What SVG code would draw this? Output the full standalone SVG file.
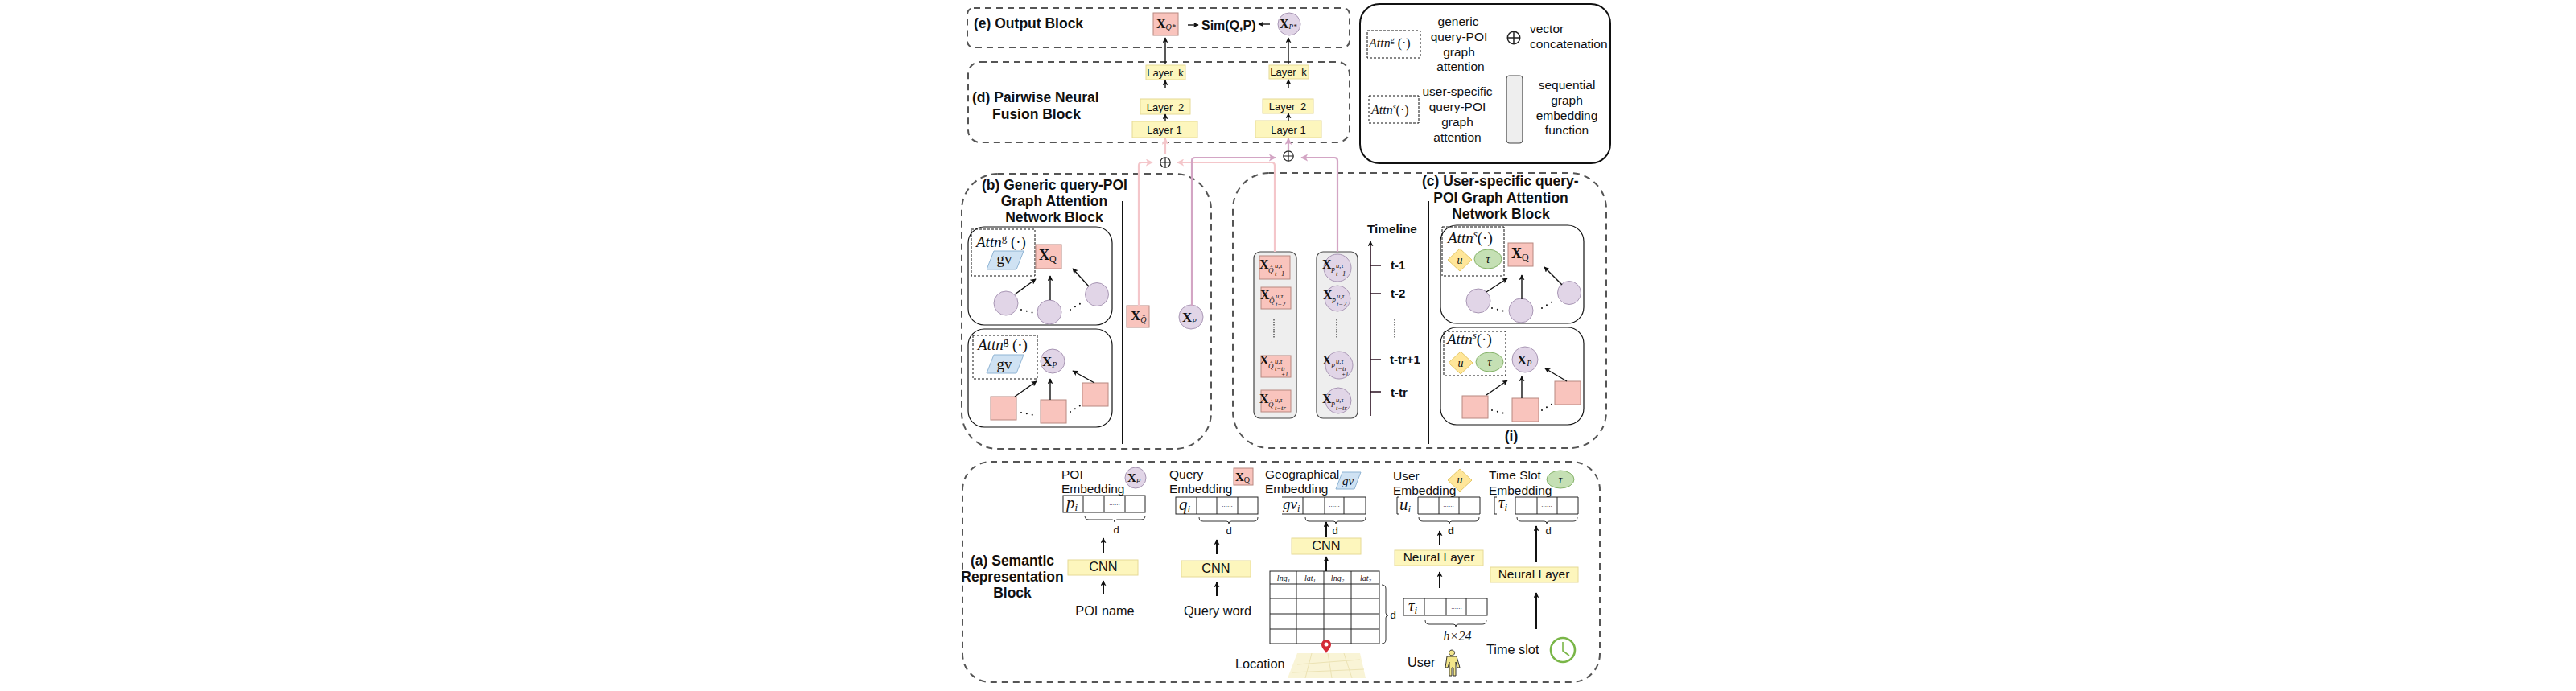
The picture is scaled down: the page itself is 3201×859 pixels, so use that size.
<svg xmlns="http://www.w3.org/2000/svg" width="3201" height="859" viewBox="0 0 3201 859">
<style>
svg{font-family:"Liberation Sans",Arial,sans-serif;font-size:15.5px}
text{fill:#111}
.h{font-weight:bold;font-size:17.5px}
.c{text-anchor:middle}
.lay{font-size:13px;text-anchor:middle}
.tl{font-weight:bold;font-size:15px}
.d{font-size:13px;text-anchor:middle}
.big{font-size:16.3px}
.x{font-family:"Liberation Serif","Times New Roman",serif;font-weight:bold}
.i{font-family:"Liberation Serif","Times New Roman",serif;font-style:italic}
.m{font-family:"Liberation Serif","Times New Roman",serif}
.block{fill:none;stroke:#555;stroke-width:2;stroke-dasharray:8 6}
.inner{fill:none;stroke:#111;stroke-width:1.2}
.attn{fill:none;stroke:#111;stroke-width:1;stroke-dasharray:3 2}
.y{fill:#fdf6bd;stroke:#e6da96;stroke-width:1}
.q{fill:#f9c4bd;stroke:#b88880;stroke-width:1}
.p{fill:#e1d5e7;stroke:#a896b4;stroke-width:1}
.gv{fill:#cfe2f3;stroke:#8fb4d4;stroke-width:1}
.u{fill:#ffe699;stroke:#e3c767;stroke-width:1}
.tau{fill:#c5e0b4;stroke:#86b36a;stroke-width:1}
.seq{fill:#eeeeee;stroke:#444;stroke-width:1.2}
.cell{fill:#fff;stroke:#222;stroke-width:1}
.ln{fill:none;stroke:#222;stroke-width:1}
.brace{fill:none;stroke:#333;stroke-width:1}
.a{fill:none;stroke:#111;stroke-width:1.4;marker-end:url(#ah)}
.a2{fill:none;stroke:#111;stroke-width:2;marker-end:url(#ah)}
.pk{fill:none;stroke:#f4c6ca;stroke-width:2.2;marker-end:url(#pk)}
.pp{fill:none;stroke:#d3a5c4;stroke-width:2.2;marker-end:url(#pp)}
.dots{fill:none;stroke:#111;stroke-width:2;stroke-linecap:round;stroke-dasharray:0 7}
.vd{fill:none;stroke:#555;stroke-width:1.5;stroke-dasharray:1.5 1.5}
.sep{fill:none;stroke:#111;stroke-width:2}
.oplus{fill:none;stroke:#222;stroke-width:1.2}
</style>
<defs>
<marker id="ah" viewBox="0 0 10 10" refX="9" refY="5" markerWidth="7" markerHeight="7" markerUnits="userSpaceOnUse" orient="auto"><path d="M0,0L10,5L0,10L2.5,5Z" fill="#111"/></marker>
<marker id="pk" viewBox="0 0 10 10" refX="9" refY="5" markerWidth="9" markerHeight="9" markerUnits="userSpaceOnUse" orient="auto"><path d="M0,0L10,5L0,10L2.5,5Z" fill="#f4c6ca"/></marker>
<marker id="pp" viewBox="0 0 10 10" refX="9" refY="5" markerWidth="9" markerHeight="9" markerUnits="userSpaceOnUse" orient="auto"><path d="M0,0L10,5L0,10L2.5,5Z" fill="#d3a5c4"/></marker>
<g id="op"><circle r="6.2" class="oplus"/><path d="M-6.2,0H6.2M0,-6.2V6.2" class="oplus"/></g>
</defs>
<rect width="3201" height="859" fill="#fff"/>

<g id="block-e"><rect class="block" x="1202" y="10" width="475" height="49" rx="8"/>
<text class="h" x="1210" y="35">(e) Output Block</text></g>
<g id="block-d"><rect class="block" x="1203" y="77" width="474" height="100" rx="15"/>
<text class="h" x="1208" y="127">(d) Pairwise Neural</text><text class="h" x="1233" y="148">Fusion Block</text></g>
<g id="block-b"><rect class="block" x="1195" y="216" width="310" height="342" rx="45"/>
<text class="h" x="1220" y="236">(b) Generic query-POI</text><text class="h c" x="1310" y="256">Graph Attention</text><text class="h c" x="1310" y="276">Network Block</text>
<path class="sep" d="M1395,250V552"/></g>
<g id="block-c"><rect class="block" x="1532" y="215" width="464" height="342" rx="45"/>
<text class="h" x="1767" y="231">(c) User-specific query-</text><text class="h c" x="1865" y="252">POI Graph Attention</text><text class="h c" x="1865" y="272">Network Block</text>
<path class="sep" d="M1775,250V552"/><text class="h c" x="1878" y="548">(i)</text></g>
<g id="block-a"><rect class="block" x="1196" y="574" width="792" height="274" rx="35"/>
<text class="h c" x="1258" y="703">(a) Semantic</text><text class="h c" x="1258" y="723">Representation</text><text class="h c" x="1258" y="743">Block</text></g>

<g id="legend"><rect x="1690" y="5" width="311" height="198" rx="24" fill="#fff" stroke="#111" stroke-width="2"/>
<rect class="attn" x="1699" y="38" width="66" height="34"/>
<text class="i" x="1701" y="59" font-size="16">Attn<tspan dy="-6" font-size="10" font-style="normal">g</tspan><tspan dy="6" font-style="normal"> (·)</tspan></text>
<text class="c" x="1812" y="32">generic</text><text class="c" x="1813" y="51">query-POI</text><text class="c" x="1813" y="70">graph</text><text class="c" x="1815" y="88">attention</text>
<rect class="attn" x="1701" y="119" width="62" height="34"/>
<text class="i" x="1704" y="142" font-size="16">Attn<tspan dy="-6" font-size="10">s</tspan><tspan dy="6" font-style="normal">(·)</tspan></text>
<text class="c" x="1811" y="119">user-specific</text><text class="c" x="1811" y="138">query-POI</text><text class="c" x="1811" y="157">graph</text><text class="c" x="1811" y="176">attention</text>
<use href="#op" transform="translate(1881,47) scale(1.25)"/>
<text x="1901" y="41">vector</text><text x="1901" y="60">concatenation</text>
<rect class="seq" x="1872" y="94" width="20" height="84" rx="4"/>
<text class="c" x="1947" y="111">sequential</text><text class="c" x="1947" y="130">graph</text><text class="c" x="1947" y="149">embedding</text><text class="c" x="1947" y="167">function</text></g>

<g id="output-q"><rect class="q" x="1433" y="16" width="31" height="28"/><text class="x" x="1437" y="35" font-size="16">X<tspan class="i" font-weight="normal" font-size="10" dy="2">Q*</tspan></text></g>
<g id="sim"><text x="1493" y="37" font-weight="bold" font-size="16">Sim(Q,P)</text></g>
<g id="output-p"><circle class="p" cx="1602" cy="30" r="14"/><text class="x" x="1590" y="35" font-size="16">X<tspan class="i" font-weight="normal" font-size="9" dy="1">P*</tspan></text></g>

<g id="layers-q">
<rect class="y" x="1424" y="81" width="49" height="18"/><text class="lay" x="1448" y="95" style="word-spacing:3px">Layer k</text>
<rect class="y" x="1417" y="123" width="62" height="19"/><text class="lay" x="1448" y="138" style="word-spacing:3px">Layer 2</text>
<rect class="y" x="1407" y="151" width="81" height="20"/><text class="lay" x="1447" y="166">Layer 1</text></g>
<g id="layers-p">
<rect class="y" x="1577" y="81" width="49" height="17"/><text class="lay" x="1601" y="94" style="word-spacing:3px">Layer k</text>
<rect class="y" x="1569" y="123" width="63" height="18"/><text class="lay" x="1600" y="137" style="word-spacing:3px">Layer 2</text>
<rect class="y" x="1560" y="150" width="82" height="21"/><text class="lay" x="1601" y="166">Layer 1</text></g>

<g id="concat-left"><use href="#op" x="1448" y="202"/></g>
<g id="concat-right"><use href="#op" x="1601" y="194"/></g>

<g id="generic-query">
<rect class="inner" x="1203" y="282" width="179" height="122" rx="20"/>
<rect class="attn" x="1207" y="285" width="79" height="58"/>
<text class="i" x="1213" y="307" font-size="19">Attn<tspan dy="-7" font-size="13" font-style="normal">g</tspan><tspan dy="7" font-style="normal"> (·)</tspan></text>
<polygon class="gv" points="1226,335 1235,312 1272,312 1263,335"/><text class="m c" x="1248" y="328" font-size="19">gv</text>
<rect class="q" x="1287" y="304" width="32" height="30"/><text class="x" x="1291" y="323" font-size="18">X<tspan class="m" font-weight="normal" font-size="12" dy="3">Q</tspan></text>
<circle class="p" cx="1250" cy="377" r="15"/><circle class="p" cx="1304" cy="388" r="15"/><circle class="p" cx="1363" cy="366" r="14.5"/>
<path class="dots" d="M1269,385L1284,389M1330,385L1343,377"/></g>
<g id="generic-poi">
<rect class="inner" x="1203" y="409" width="179" height="122" rx="20"/>
<rect class="attn" x="1209" y="417" width="80" height="54"/>
<text class="i" x="1215" y="435" font-size="19">Attn<tspan dy="-7" font-size="13" font-style="normal">g</tspan><tspan dy="7" font-style="normal"> (·)</tspan></text>
<polygon class="gv" points="1226,464 1235,441 1272,441 1263,464"/><text class="m c" x="1248" y="459" font-size="19">gv</text>
<circle class="p" cx="1308" cy="449" r="15"/><text class="x" x="1295" y="455" font-size="17">X<tspan class="i" font-weight="normal" font-size="10" dy="2">P</tspan></text>
<rect class="q" x="1231" y="493" width="32" height="29"/><rect class="q" x="1293" y="497" width="32" height="29"/><rect class="q" x="1345" y="476" width="32" height="29"/>
<path class="dots" d="M1269,513L1284,516M1330,512L1344,503"/></g>
<g id="x-q-hat"><rect class="q" x="1400" y="380" width="28" height="27"/><text class="x" x="1405" y="398" font-size="17">X<tspan class="i" font-weight="normal" font-size="10" dy="3">Q̂</tspan></text></g>
<g id="x-p-bar"><circle class="p" cx="1480" cy="394" r="15"/><text class="x" x="1469" y="400" font-size="17">X<tspan class="i" font-weight="normal" font-size="9" dy="2">P̄</tspan></text></g>

<g id="seq-q"><rect class="seq" x="1558" y="313" width="53" height="207" rx="8"/>
<rect class="q" x="1565" y="318" width="38" height="29"/><rect class="q" x="1567" y="357" width="37" height="27"/><rect class="q" x="1567" y="442" width="37" height="27"/><rect class="q" x="1567" y="485" width="37" height="27"/>
<text class="x" x="1565" y="334" font-size="16">X</text><text class="i" x="1576" y="339" font-size="9">Q̂</text><text class="i" x="1584" y="333" font-size="8.5">u,τ</text><text class="i" x="1584" y="343" font-size="8.5">t−1</text>
<text class="x" x="1566" y="372" font-size="16">X</text><text class="i" x="1577" y="377" font-size="9">Q̂</text><text class="i" x="1585" y="371" font-size="8.5">u,τ</text><text class="i" x="1585" y="381" font-size="8.5">t−2</text>
<path class="vd" d="M1583,397V422"/>
<text class="x" x="1565" y="453" font-size="16">X</text><text class="i" x="1576" y="458" font-size="9">Q̂</text><text class="i" x="1584" y="452" font-size="8.5">u,τ</text><text class="i" x="1584" y="461" font-size="8.5">t−tr</text><text class="i" x="1592" y="468" font-size="7.5">+1</text>
<text class="x" x="1565" y="501" font-size="16">X</text><text class="i" x="1576" y="506" font-size="9">Q̂</text><text class="i" x="1584" y="500" font-size="8.5">u,τ</text><text class="i" x="1584" y="510" font-size="8.5">t−tr</text></g>
<g id="seq-p"><rect class="seq" x="1636" y="313" width="51" height="207" rx="8"/>
<circle class="p" cx="1662" cy="333" r="17"/><circle class="p" cx="1662" cy="371" r="16"/><circle class="p" cx="1664" cy="454" r="17"/><circle class="p" cx="1663" cy="498" r="16"/>
<text class="x" x="1643" y="334" font-size="16">X</text><text class="i" x="1654" y="339" font-size="8">P̄</text><text class="i" x="1660" y="333" font-size="8.5">u,τ</text><text class="i" x="1660" y="343" font-size="8.5">t−1</text>
<text class="x" x="1644" y="372" font-size="16">X</text><text class="i" x="1655" y="377" font-size="8">P̄</text><text class="i" x="1661" y="371" font-size="8.5">u,τ</text><text class="i" x="1661" y="381" font-size="8.5">t−2</text>
<path class="vd" d="M1661,397V422"/>
<text class="x" x="1643" y="453" font-size="16">X</text><text class="i" x="1654" y="458" font-size="8">P̄</text><text class="i" x="1660" y="452" font-size="8.5">u,τ</text><text class="i" x="1660" y="461" font-size="8.5">t−tr</text><text class="i" x="1667" y="468" font-size="7.5">+1</text>
<text class="x" x="1643" y="501" font-size="16">X</text><text class="i" x="1654" y="506" font-size="8">P̄</text><text class="i" x="1660" y="500" font-size="8.5">u,τ</text><text class="i" x="1660" y="510" font-size="8.5">t−tr</text></g>
<g id="timeline">
<text class="tl" x="1699" y="290" style="font-size:15.3px">Timeline</text>
<path d="M1703,330H1716M1703,365H1716M1703,447H1716M1703,487H1716" fill="none" stroke="#2a1020" stroke-width="1.4"/>
<text class="tl" x="1728" y="335">t-1</text><text class="tl" x="1728" y="370">t-2</text><path class="vd" d="M1733,397V420"/><text class="tl" x="1727" y="452">t-tr+1</text><text class="tl" x="1728" y="493">t-tr</text></g>

<g id="user-query">
<rect class="inner" x="1790" y="280" width="178" height="122" rx="20"/>
<rect class="attn" x="1792" y="282" width="77" height="61"/>
<text class="i" x="1799" y="302" font-size="19">Attn<tspan dy="-7" font-size="13">s</tspan><tspan dy="7" font-style="normal">(·)</tspan></text>
<polygon class="u" points="1799,323 1814,309 1829,323 1814,337"/><text class="i c" x="1814" y="328" font-size="14">u</text>
<ellipse class="tau" cx="1849" cy="322" rx="17" ry="12"/><text class="i c" x="1849" y="327" font-size="15">τ</text>
<rect class="q" x="1874" y="302" width="31" height="29"/><text class="x" x="1878" y="321" font-size="18">X<tspan class="m" font-weight="normal" font-size="12" dy="3">Q</tspan></text>
<circle class="p" cx="1837" cy="374" r="15"/><circle class="p" cx="1890" cy="386" r="15"/><circle class="p" cx="1950" cy="364" r="14.5"/>
<path class="dots" d="M1854,383L1870,387M1916,383L1929,375"/></g>
<g id="user-poi">
<rect class="inner" x="1790" y="407" width="178" height="121" rx="20"/>
<rect class="attn" x="1794" y="412" width="77" height="55"/>
<text class="i" x="1798" y="428" font-size="19">Attn<tspan dy="-7" font-size="13">s</tspan><tspan dy="7" font-style="normal">(·)</tspan></text>
<polygon class="u" points="1800,451 1815,437 1830,451 1815,465"/><text class="i c" x="1815" y="456" font-size="14">u</text>
<ellipse class="tau" cx="1851" cy="450" rx="17" ry="12"/><text class="i c" x="1851" y="455" font-size="15">τ</text>
<circle class="p" cx="1895" cy="447" r="16"/><text class="x" x="1885" y="453" font-size="17">X<tspan class="i" font-weight="normal" font-size="10" dy="2">P</tspan></text>
<rect class="q" x="1817" y="492" width="32" height="28"/><rect class="q" x="1879" y="495" width="33" height="29"/><rect class="q" x="1932" y="474" width="32" height="29"/>
<path class="dots" d="M1854,510L1870,514M1916,510L1929,502"/></g>

<g id="poi-embedding">
<text x="1319" y="595">POI</text><text x="1319" y="613">Embedding</text>
<circle class="p" cx="1411" cy="594" r="13"/><text class="x" x="1401" y="599" font-size="15">X<tspan class="i" font-weight="normal" font-size="9" dy="2">P</tspan></text>
<rect class="cell" x="1321" y="616" width="102" height="21"/><path class="ln" d="M1346,616V637M1372,616V637M1398,616V637"/>
<text class="i" x="1325" y="632" font-size="21">p<tspan font-size="13" dy="3">i</tspan></text><text class="c" x="1385" y="628" font-size="8">......</text>
<path class="brace" d="M1348,641q0,5 5,5H1382q3,0 3,3q0,-3 3,-3H1418q5,0 5,-5"/><text class="d" x="1387" y="663">d</text>
<rect class="y" x="1327" y="696" width="87" height="19"/><text class="c big" x="1371" y="710">CNN</text>
<text class="c big" x="1373" y="765">POI name</text></g>
<g id="query-embedding">
<text x="1453" y="595">Query</text><text x="1453" y="613">Embedding</text>
<rect class="q" x="1533" y="582" width="24" height="21"/><text class="x" x="1535" y="598" font-size="15">X<tspan class="m" font-weight="normal" font-size="10" dy="2">Q</tspan></text>
<rect class="cell" x="1461" y="618" width="102" height="21"/><path class="ln" d="M1487,618V639M1512,618V639M1538,618V639"/>
<text class="i" x="1465" y="634" font-size="21">q<tspan font-size="13" dy="3">i</tspan></text><text class="c" x="1525" y="630" font-size="8">......</text>
<path class="brace" d="M1490,643q0,5 5,5H1524q3,0 3,3q0,-3 3,-3H1558q5,0 5,-5"/><text class="d" x="1527" y="664">d</text>
<rect class="y" x="1468" y="697" width="86" height="20"/><text class="c big" x="1511" y="712">CNN</text>
<text class="c big" x="1513" y="765">Query word</text></g>
<g id="geo-embedding">
<text x="1572" y="595">Geographical</text><text x="1572" y="613">Embedding</text>
<polygon class="gv" points="1660,608 1668,587 1691,587 1683,608"/><text class="i c" x="1675" y="603" font-size="15">gv</text>
<path class="ln" d="M1593,618H1697V639H1593"/><path class="ln" d="M1619,618V639M1646,618V639M1670,618V639"/>
<text class="i" x="1594" y="633" font-size="19">gv<tspan font-size="12" dy="3">i</tspan></text><text class="c" x="1658" y="630" font-size="8">......</text>
<path class="brace" d="M1622,643q0,5 5,5H1657q3,0 3,3q0,-3 3,-3H1692q5,0 5,-5"/><text class="d" x="1659" y="664">d</text>
<rect class="y" x="1605" y="669" width="86" height="20"/><text class="c big" x="1648" y="684">CNN</text>
<rect class="cell" x="1578" y="710" width="136" height="90"/>
<path class="ln" d="M1578,726H1714M1578,744H1714M1578,763H1714M1578,782H1714M1611,710V800M1645,710V800M1679,710V800"/>
<text class="i c" x="1595" y="722" font-size="10">lng<tspan font-size="7" dy="2">1</tspan></text><text class="i c" x="1628" y="722" font-size="10">lat<tspan font-size="7" dy="2">1</tspan></text><text class="i c" x="1662" y="722" font-size="10">lng<tspan font-size="7" dy="2">2</tspan></text><text class="i c" x="1697" y="722" font-size="10">lat<tspan font-size="7" dy="2">2</tspan></text>
<path class="brace" d="M1717,727q5,0 5,5V762q0,3 3,3q-3,0 -3,3V795q0,5 -5,5"/><text class="d" x="1731" y="769">d</text>
<text class="big" x="1535" y="831">Location</text>
<path d="M1612,812L1690,812L1697,843L1600,843Z" fill="#f9f4d6"/>
<path d="M1612,826L1690,820M1630,812L1622,843M1650,812L1655,843M1670,812L1680,843M1606,836L1695,832" fill="none" stroke="#ece3b4" stroke-width="1"/>
<path d="M1648,812c-3,-5 -6,-7 -6,-11a6,6 0 0 1 12,0c0,4 -3,6 -6,11Z" fill="#d42a36"/><circle cx="1648" cy="801" r="2.5" fill="#fff"/></g>
<g id="user-embedding">
<text x="1731" y="597">User</text><text x="1731" y="615">Embedding</text>
<polygon class="u" points="1799,597 1814,583 1829,597 1814,611"/><text class="i c" x="1814" y="601" font-size="14">u</text>
<path class="ln" d="M1739,618H1736V639H1739M1762,618H1839V639H1762"/><path class="ln" d="M1762,618V639M1788,618V639M1813,618V639"/>
<text class="i" x="1739" y="634" font-size="21">u<tspan font-size="13" dy="3">i</tspan></text><text class="c" x="1800" y="630" font-size="8">......</text>
<path class="brace" d="M1763,643q0,5 5,5H1798q3,0 3,3q0,-3 3,-3H1833q5,0 5,-5"/><text class="d" x="1803" y="664" font-weight="bold">d</text>
<rect class="y" x="1733" y="684" width="110" height="19"/><text class="c" x="1788" y="698">Neural Layer</text>
<rect class="cell" x="1744" y="744" width="104" height="21"/><path class="ln" d="M1770,744V765M1797,744V765M1822,744V765"/>
<text class="i" x="1750" y="760" font-size="21">τ<tspan font-size="13" dy="3">i</tspan></text><text class="c" x="1810" y="757" font-size="8">......</text>
<path class="brace" d="M1771,771q0,5 5,5H1806q3,0 3,3q0,-3 3,-3H1842q5,0 5,-5"/>
<text class="i c" x="1811" y="796" font-size="16">h×24</text>
<text class="big" x="1749" y="829">User</text>
<path d="M1804,808a3.5,3.5 0 1 0 0.1,0ZM1798,816h12l4,14h-3l-2,-7v17h-3v-10h-2v10h-3v-17l-2,7h-3Z" fill="#f3e68a" stroke="#333" stroke-width="1"/></g>
<g id="time-embedding">
<text x="1850" y="596">Time Slot</text><text x="1850" y="615">Embedding</text>
<ellipse class="tau" cx="1939" cy="596" rx="17" ry="11"/><text class="i c" x="1939" y="601" font-size="14">τ</text>
<path class="ln" d="M1860,618H1857V639H1860M1883,618H1961V639H1883"/><path class="ln" d="M1883,618V639M1910,618V639M1935,618V639"/>
<text class="i" x="1862" y="632" font-size="21">τ<tspan font-size="13" dy="3">i</tspan></text><text class="c" x="1922" y="630" font-size="8">......</text>
<path class="brace" d="M1885,643q0,5 5,5H1919q3,0 3,3q0,-3 3,-3H1955q5,0 5,-5"/><text class="d" x="1924" y="664">d</text>
<rect class="y" x="1852" y="705" width="109" height="19"/><text class="c" x="1906" y="719">Neural Layer</text>
<text class="big" x="1847" y="813">Time slot</text>
<circle cx="1942" cy="808" r="15" fill="#fff" stroke="#7ab648" stroke-width="2.6"/><path d="M1942,798V809L1950,815" fill="none" stroke="#7ab648" stroke-width="1.6"/></g>

<g id="connectors">
<path class="a" d="M1476,31H1489"/><path class="a" d="M1578,30H1564"/>
<path class="a" d="M1448,80V47"/><path class="a" d="M1601,80V47"/>
<path class="a" d="M1448,110V100"/><path class="a" d="M1601,110V99"/>
<path class="a" d="M1448,150V142"/><path class="a" d="M1601,150V141"/>
<path class="pk" d="M1448,192V172"/><path class="pp" d="M1601,186V172"/>
<path class="pk" d="M1415,380V206Q1415,202 1419,202H1432"/>
<path class="pk" d="M1584,313V206Q1584,202 1580,202H1463"/>
<path class="pp" d="M1481,380V200Q1481,196 1485,196H1585"/>
<path class="pp" d="M1662,313V200Q1662,196 1658,196H1617"/>
<path class="a" d="M1261,366L1287,347"/><path class="a" d="M1305,373V343"/><path class="a" d="M1353,356L1333,334"/>
<path class="a" d="M1261,493L1288,474"/><path class="a" d="M1305,497V471"/><path class="a" d="M1360,476L1333,461"/>
<path class="a" d="M1847,363L1873,346"/><path class="a" d="M1891,372V342"/><path class="a" d="M1941,354L1919,332"/>
<path class="a" d="M1847,491L1873,473"/><path class="a" d="M1891,495V468"/><path class="a" d="M1947,474L1920,458"/>
<path d="M1703,517V300" fill="none" stroke="#2a1020" stroke-width="1.6" marker-end="url(#ah)"/>
<path class="a2" d="M1371,687V669"/><path class="a2" d="M1371,739V722"/>
<path class="a2" d="M1512,689V671"/><path class="a2" d="M1512,741V724"/>
<path class="a2" d="M1648,667V649"/><path class="a2" d="M1648,710V692"/>
<path class="a2" d="M1789,678V660"/><path class="a2" d="M1789,731V711"/>
<path class="a2" d="M1909,699V654"/><path class="a2" d="M1909,782V737"/>
</g>
</svg>
